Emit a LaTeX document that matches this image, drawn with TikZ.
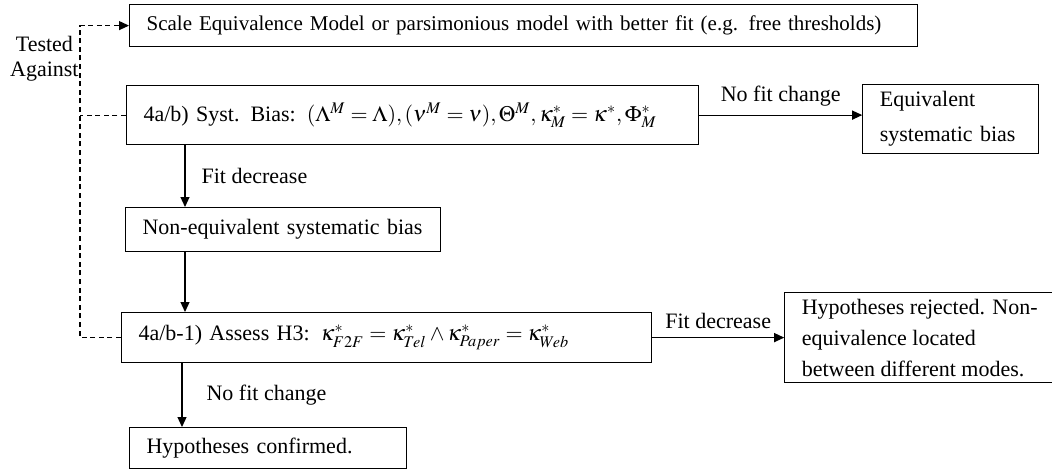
\documentclass[tikz,border=0pt]{standalone}
\usepackage{mathptmx}
\usepackage{fontspec}
\setmainfont{Liberation Serif}
\usetikzlibrary{arrows.meta,positioning,calc}
\tikzset{
  box/.style={draw,line width=.6pt,align=left,inner xsep=8.5pt,inner ysep=2pt,
              font=\fontsize{11}{15.5}\selectfont},
  flow/.style={-{Triangle[length=5pt,width=4.5pt]},line width=.6pt},
  testline/.style={dash pattern=on 2.5pt off 1.8pt,line width=.6pt},
  note/.style={font=\fontsize{11}{12.5}\selectfont,inner sep=1pt}
}

\begin{document}
\begin{tikzpicture}[x=.5pt,y=-.5pt]
  \useasboundingbox (0,0) rectangle (1052,471);
  \node[box,anchor=north west,text width=377pt,minimum height=21pt,font=\fontsize{10.5}{12}\selectfont] (model) at (129,4) {Scale Equivalence Model or parsimonious model with better fit (e.g. free thresholds)};
  \node[box,anchor=north west,text width=269pt,minimum height=29.5pt] (sysbias) at (126,85) {4a/b) Syst. Bias: $(\Lambda^M=\Lambda),(\nu^M=\nu),\Theta^M,\kappa^*_M=\kappa^*,\Phi^*_M$};
  \node[box,right=81.5pt of sysbias,yshift=-2pt,text width=71pt,minimum height=34.5pt,font=\fontsize{11}{17.5}\selectfont] (equiv) {Equivalent\\systematic bias};
  \node[box,anchor=north west,text width=140.5pt,minimum height=22pt] (noneq) at (125,207) {Non-equivalent systematic bias};
  \node[box,anchor=north west,text width=248pt,minimum height=25pt] (assess) at (121,312) {4a/b-1) Assess H3: $\kappa^*_{F2F}=\kappa^*_{Tel}\wedge\kappa^*_{Paper}=\kappa^*_{Web}$};
  \node[box,right=66pt of assess,minimum width=131.5pt,minimum height=45pt] (reject) {Hypotheses rejected. Non-\\equivalence located\\between different modes.};
  \node[box,anchor=north west,text width=121.5pt,minimum height=20.5pt] (confirm) at (129,427) {Hypotheses confirmed.};

  % tested against
  \coordinate (bend) at ($(model.west)+(-49,0)$);
  \node[note,align=center,anchor=north east] (testlabel) at ($(bend)+(1,8)$) {Tested\\Against};
  \draw[testline,-{Triangle[length=5pt,width=4.5pt]}] (assess.west) -| (bend) -- (model.west);
  \draw[testline] (sysbias.west) -- (sysbias.west -| bend);

  \draw[flow] (sysbias.east) -- (sysbias.east -| equiv.west) node[midway,above=3pt,note] {No fit change};
  \draw[flow] ([xshift=29.5pt]sysbias.south west) -- ([xshift=29.5pt]sysbias.south west |- noneq.north) node[midway,right=7pt,note] {Fit decrease};
  \draw[flow] ([xshift=30pt]noneq.south west) -- ([xshift=30pt]noneq.south west |- assess.north);
  \draw[flow] (assess.east) -- (assess.east -| reject.west) node[midway,above=3pt,note] {Fit decrease};
  \draw[flow] ([xshift=30.5pt]assess.south west) -- ([xshift=30.5pt]assess.south west |- confirm.north) node[midway,right=11pt,note] {No fit change};
\end{tikzpicture}
\end{document}
